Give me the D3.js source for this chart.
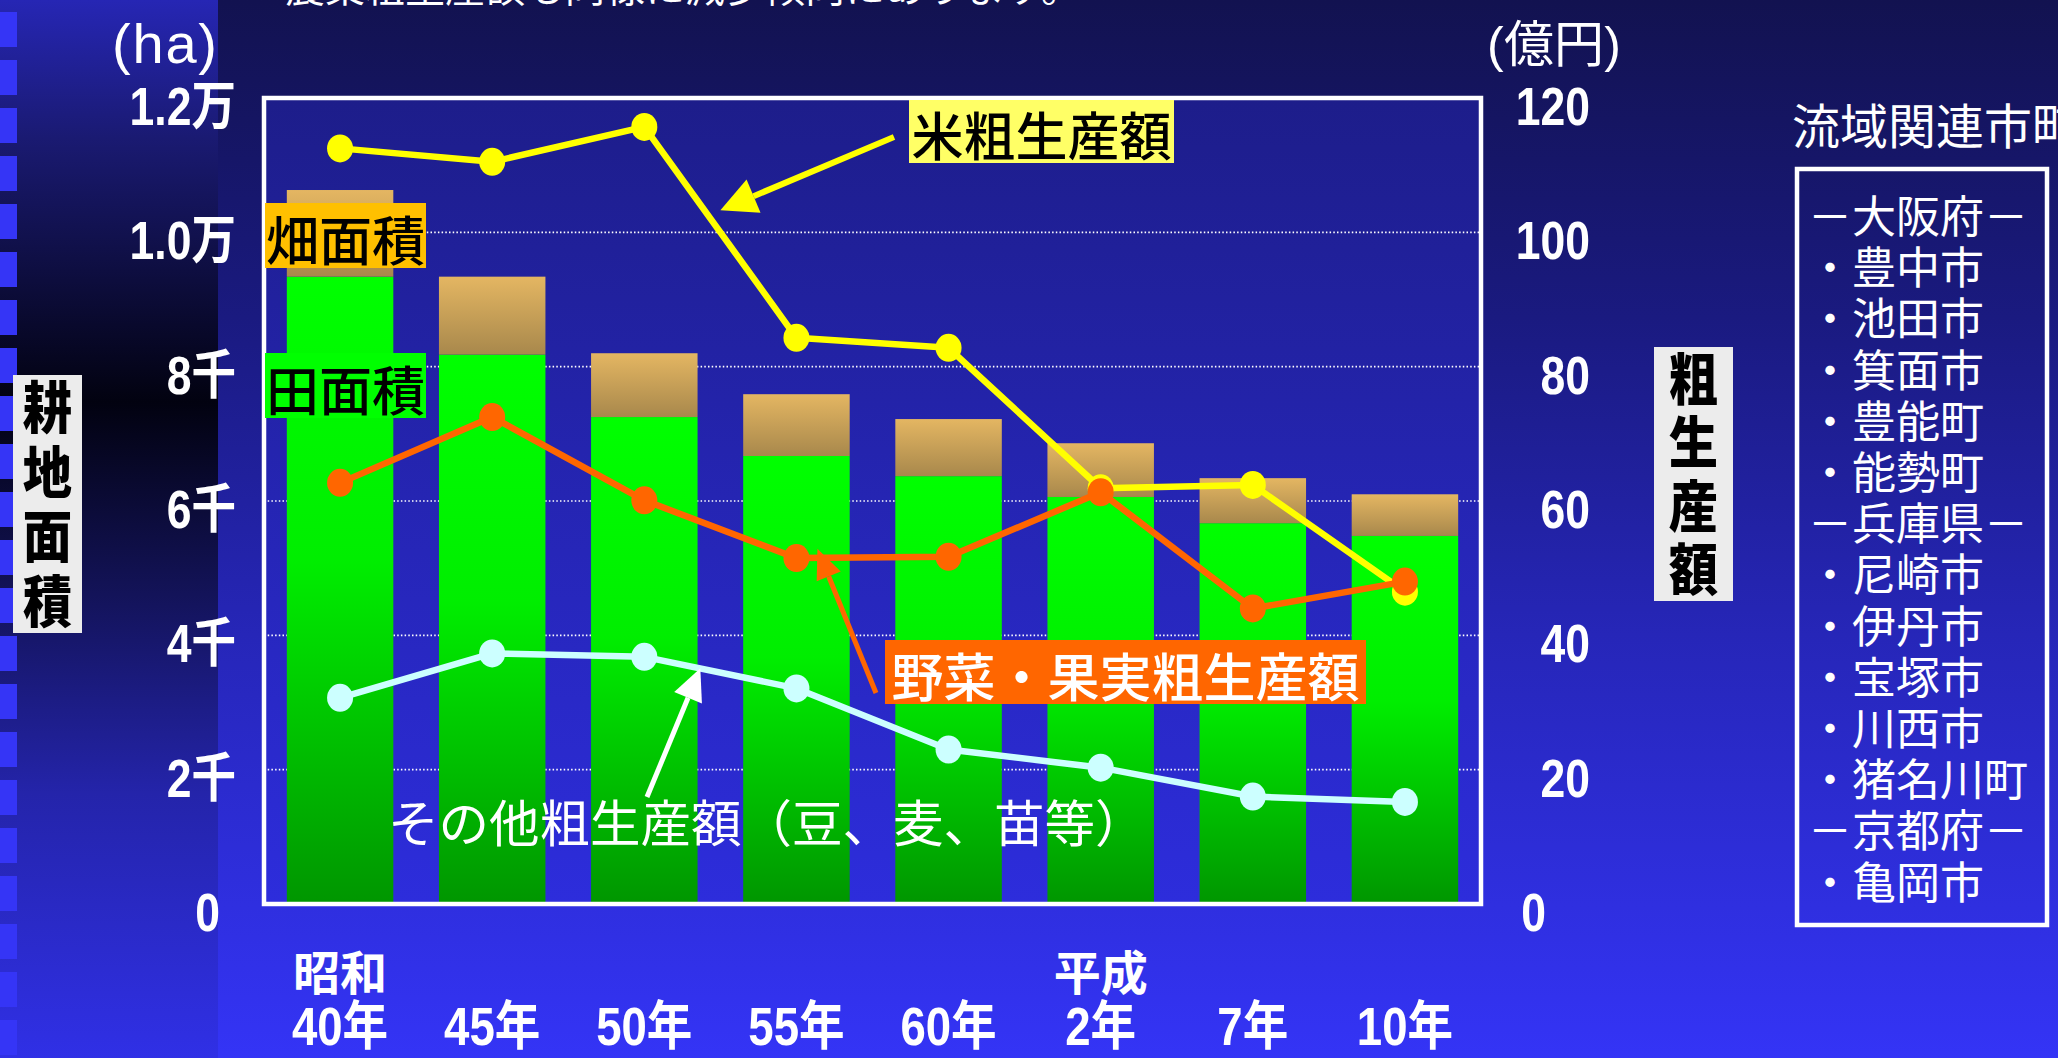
<!DOCTYPE html>
<html><head><meta charset="utf-8">
<script src="https://cdn.jsdelivr.net/npm/d3@7"></script>
<style>
html,body{margin:0;padding:0;background:#141450;overflow:hidden}
svg{display:block}
</style></head><body>
<svg id="c" width="2058" height="1058"></svg>
<script>
// ---------- data ----------
const categories = ["40年","45年","50年","55年","60年","2年","7年","10年"];
const eraLabels = ["昭和","","","","","平成","",""];
const paddyArea = [9340, 8180, 7250, 6670, 6370, 6060, 5670, 5480];   // 田面積 (ha)
const uplandArea = [1290, 1160, 950, 920, 850, 800, 670, 620];        // 畑面積 (ha)
const riceOutput = [112.5, 110.5, 115.7, 84.3, 82.8, 61.9, 62.4, 46.5];     // 米粗生産額 (億円)
const vegFruitOutput = [62.7, 72.5, 60.1, 51.5, 51.7, 61.3, 44.0, 48.0];    // 野菜・果実粗生産額
const otherOutput = [30.7, 37.3, 36.8, 32.1, 23.0, 20.3, 16.0, 15.2];       // その他粗生産額
const leftTicks = [0, 2000, 4000, 6000, 8000, 10000, 12000];
const leftTickLabels = ["0","2千","4千","6千","8千","1.0万","1.2万"];
const rightTicks = [0, 20, 40, 60, 80, 100, 120];
const rightTickLabels = ["0","20","40","60","80","100","120"];
const municipalities = ["－大阪府－","・豊中市","・池田市","・箕面市","・豊能町","・能勢町",
  "－兵庫県－","・尼崎市","・伊丹市","・宝塚市","・川西市","・猪名川町","－京都府－","・亀岡市"];
const seriesNames = {rice:"米粗生産額", veg:"野菜・果実粗生産額", other:"その他粗生産額（豆、麦、苗等）", upland:"畑面積", paddy:"田面積"};
const leftUnit = "(ha)", rightUnit = "(億円)";
const leftTitle = "耕地面積", rightTitle = "粗生産額";
const legendTitle = "流域関連市町";
const topText = "農業粗生産額も同様に減少傾向にあります。";

// ---------- setup ----------
const W = 2058, H = 1058;
const svg = d3.select("#c");
const defs = svg.append("defs");
const jp = "'Noto Sans CJK JP','Noto Sans',sans-serif";
const num = "'Liberation Sans','Noto Sans CJK JP',sans-serif";

function grad(id, stops, user) {
  const g = defs.append("linearGradient").attr("id", id)
    .attr("x1", 0).attr("y1", 0).attr("x2", 0).attr("y2", user ? H : 1);
  if (user) g.attr("gradientUnits", "userSpaceOnUse");
  stops.forEach(s => g.append("stop").attr("offset", s[0]).attr("stop-color", s[1]));
}
grad("bg", [[0,"#121250"],[0.3,"#1a1a80"],[0.6,"#2626b8"],[1,"#3434f6"]], true);
grad("panel", [[0,"#2626b4"],[0.13,"#1a1a72"],[0.38,"#020210"],[0.55,"#121254"],[0.75,"#2424aa"],[1,"#3030e6"]], true);
grad("plotbg", [[0,"#1d1d8a"],[1,"#2d2ddc"]], false);
grad("green", [[0,"#00ff00"],[0.45,"#00ee00"],[1,"#009600"]], false);
grad("tan", [[0,"#e4b662"],[1,"#a8884c"]], false);

// background
svg.append("rect").attr("width", W).attr("height", H).attr("fill", "url(#bg)");
svg.append("rect").attr("x", 0).attr("y", 0).attr("width", 218).attr("height", H).attr("fill", "url(#panel)");
const strip = svg.append("g");
d3.range(0, 22).forEach(k => {
  strip.append("rect").attr("x", 0).attr("y", 12 + k * 48).attr("width", 17).attr("height", 35).attr("fill", "#3535f6");
});

// top (cut-off) text
svg.append("text").attr("x", 285).attr("y", 2).attr("fill", "#fff")
  .attr("font-family", jp).attr("font-size", 40).text(topText);

// ---------- scales ----------
const plot = {x0: 264, x1: 1481, y0: 98, y1: 904};
const x = d3.scaleBand().domain(categories).range([plot.x0, plot.x1]).paddingInner(0.3).paddingOuter(0.15);
const yL = d3.scaleLinear().domain([0, 12000]).range([plot.y1, plot.y0]);
const yR = d3.scaleLinear().domain([0, 120]).range([plot.y1, plot.y0]);
const xc = c => x(c) + x.bandwidth() / 2;

// plot area
svg.append("rect").attr("x", plot.x0).attr("y", plot.y0).attr("width", plot.x1 - plot.x0)
  .attr("height", plot.y1 - plot.y0).attr("fill", "url(#plotbg)");

// gridlines
svg.append("g").selectAll("line").data(leftTicks.filter(t => t > 0 && t < 12000)).join("line")
  .attr("x1", plot.x0).attr("x2", plot.x1).attr("y1", d => yL(d)).attr("y2", d => yL(d))
  .attr("stroke", "#ffffff").attr("stroke-width", 1.6).attr("stroke-dasharray", "1.5,2.2");

// stacked bars
const table = categories.map((c, i) => ({cat: c, paddy: paddyArea[i], upland: uplandArea[i]}));
const stack = d3.stack().keys(["paddy", "upland"])(table);
const fills = {paddy: "url(#green)", upland: "url(#tan)"};
svg.append("g").selectAll("g").data(stack).join("g").attr("fill", d => fills[d.key])
  .selectAll("rect").data(d => d).join("rect")
  .attr("x", d => x(d.data.cat)).attr("width", x.bandwidth())
  .attr("y", d => yL(d[1])).attr("height", d => yL(d[0]) - yL(d[1]));

// frame
svg.append("rect").attr("x", plot.x0).attr("y", plot.y0).attr("width", plot.x1 - plot.x0)
  .attr("height", plot.y1 - plot.y0).attr("fill", "none").attr("stroke", "#fff").attr("stroke-width", 4.5);

// boxed labels
function boxLabel(t, bx, by, bw, bh, fill, color, size) {
  svg.append("rect").attr("x", bx).attr("y", by).attr("width", bw).attr("height", bh).attr("fill", fill);
  svg.append("text").attr("x", bx + bw / 2).attr("y", by + bh / 2 + 2).attr("text-anchor", "middle")
    .attr("dominant-baseline", "central").attr("font-family", jp).attr("font-weight", 500)
    .attr("font-size", size).attr("fill", color).text(t);
}
boxLabel(seriesNames.upland, 265, 203, 161, 65, "#ffc000", "#000", 53);
boxLabel(seriesNames.paddy, 265, 353, 161, 65, "#00ff00", "#000", 53);

// lines
function series(vals, color, w) {
  const pts = categories.map((c, i) => [xc(c), yR(vals[i])]);
  svg.append("path").attr("d", d3.line()(pts)).attr("fill", "none").attr("stroke", color)
    .attr("stroke-width", w).attr("stroke-linejoin", "round");
  svg.append("g").selectAll("ellipse").data(pts).join("ellipse")
    .attr("cx", d => d[0]).attr("cy", d => d[1]).attr("rx", 13).attr("ry", 14).attr("fill", color);
}
series(otherOutput, "#ccffff", 6.5);
series(riceOutput, "#ffff00", 6.5);
series(vegFruitOutput, "#ff6600", 6.5);

// arrows
function arrow(x1, y1, x2, y2, color, w, hl, hw) {
  const a = Math.atan2(y2 - y1, x2 - x1);
  const bx = x2 - hl * Math.cos(a), by = y2 - hl * Math.sin(a);
  svg.append("line").attr("x1", x1).attr("y1", y1).attr("x2", bx).attr("y2", by)
    .attr("stroke", color).attr("stroke-width", w);
  const px = -Math.sin(a) * hw, py = Math.cos(a) * hw;
  svg.append("path").attr("d", `M${x2},${y2}L${bx + px},${by + py}L${bx - px},${by - py}Z`).attr("fill", color);
}
const midX = (xc("50年") + xc("55年")) / 2;
arrow(894, 137, midX, yR(103.3), "#ffff00", 6, 36, 18);
arrow(876, 693, xc("55年") + 21, yR(52.9), "#ff6600", 5, 30, 13);
arrow(647, 797, xc("50年") + 56, yR(35.1), "#ffffff", 5, 32, 15);

boxLabel(seriesNames.rice, 909, 100, 265, 63, "#ffff66", "#000", 52);
boxLabel(seriesNames.veg, 885, 640, 481, 64, "#ff6600", "#fff", 52);
svg.append("text").attr("x", 388).attr("y", 842).attr("font-family", jp).attr("font-size", 50.5)
  .attr("fill", "#fff").text(seriesNames.other);

// axes
const SX = 0.84;
const axL = svg.append("g").attr("transform", "translate(236,0)")
  .call(d3.axisLeft(yL).tickValues(leftTicks).tickFormat((d, i) => leftTickLabels[i]).tickSize(0).tickPadding(0));
const axR = svg.append("g").attr("transform", "translate(1590,0)")
  .call(d3.axisLeft(yR).tickValues(rightTicks).tickFormat((d, i) => rightTickLabels[i]).tickSize(0).tickPadding(0));
[axL, axR].forEach(ax => {
  ax.select(".domain").remove();
  ax.attr("font-family", null).attr("font-size", null);
  ax.selectAll("text").attr("fill", "#fff").attr("font-family", num).attr("font-weight", "bold")
    .attr("font-size", 53).attr("dy", null).attr("dominant-baseline", "central").attr("y", 8)
    .attr("transform", `scale(${SX},1)`);
});
axL.selectAll(".tick").filter(d => d === 0).select("text").attr("x", -16 / SX);
axR.selectAll(".tick").filter(d => d === 0).select("text").attr("x", -44 / SX);

const axB = svg.append("g").attr("transform", "translate(0,1045)")
  .call(d3.axisBottom(x).tickSize(0).tickPadding(0));
axB.select(".domain").remove();
axB.attr("font-family", null).attr("font-size", null);
axB.selectAll("text").attr("fill", "#fff").attr("font-family", num).attr("font-weight", "bold")
  .attr("font-size", 53).attr("dy", null).attr("y", 0).attr("transform", "scale(0.86,1)");
svg.append("g").selectAll("text").data(categories.filter((c, i) => eraLabels[i]))
  .join("text").attr("x", d => xc(d)).attr("y", 990).attr("text-anchor", "middle")
  .attr("fill", "#fff").attr("font-family", jp).attr("font-weight", "bold").attr("font-size", 47)
  .text(d => eraLabels[categories.indexOf(d)]);

// unit labels
svg.append("text").attr("x", 112).attr("y", 63).attr("fill", "#fff")
  .attr("font-family", "'Liberation Sans','Noto Sans CJK JP',sans-serif").attr("font-size", 56)
  .attr("textLength", 105).text(leftUnit);
svg.append("text").attr("x", 1487).attr("y", 62).attr("fill", "#fff")
  .attr("font-family", "'Liberation Sans','Noto Sans CJK JP',sans-serif").attr("font-size", 50)
  .attr("textLength", 134).text(rightUnit);

// vertical titles (one text element, one tspan per character)
function vTitle(t, bx, by, bw, bh) {
  svg.append("rect").attr("x", bx).attr("y", by).attr("width", bw).attr("height", bh).attr("fill", "#ececec");
  const chars = Array.from(t), pitch = bh / chars.length;
  const g = svg.append("g").attr("transform", `translate(${bx + bw / 2},0) scale(0.88,1)`);
  g.append("text").attr("text-anchor", "middle").attr("font-family", jp).attr("font-weight", 900)
    .attr("font-size", 56).attr("fill", "#000")
    .selectAll("tspan").data(chars).join("tspan").attr("x", 0)
    .attr("y", (d, i) => by + pitch * (i + 0.5) + 21).text(d => d);
}
vTitle(leftTitle, 13, 375, 69, 258);
vTitle(rightTitle, 1654, 347, 79, 254);

// legend of municipalities
svg.append("text").attr("x", 1792).attr("y", 144).attr("fill", "#fff").attr("font-family", jp)
  .attr("font-size", 48).text(legendTitle);
svg.append("rect").attr("x", 1797).attr("y", 169).attr("width", 250).attr("height", 756)
  .attr("fill", "none").attr("stroke", "#fff").attr("stroke-width", 4.5);
svg.append("text").attr("fill", "#fff").attr("font-family", jp).attr("font-size", 44)
  .selectAll("tspan").data(municipalities).join("tspan")
  .attr("x", 1808).attr("y", (d, i) => 233 + i * 51.2).text(d => d);
</script>
</body></html>
